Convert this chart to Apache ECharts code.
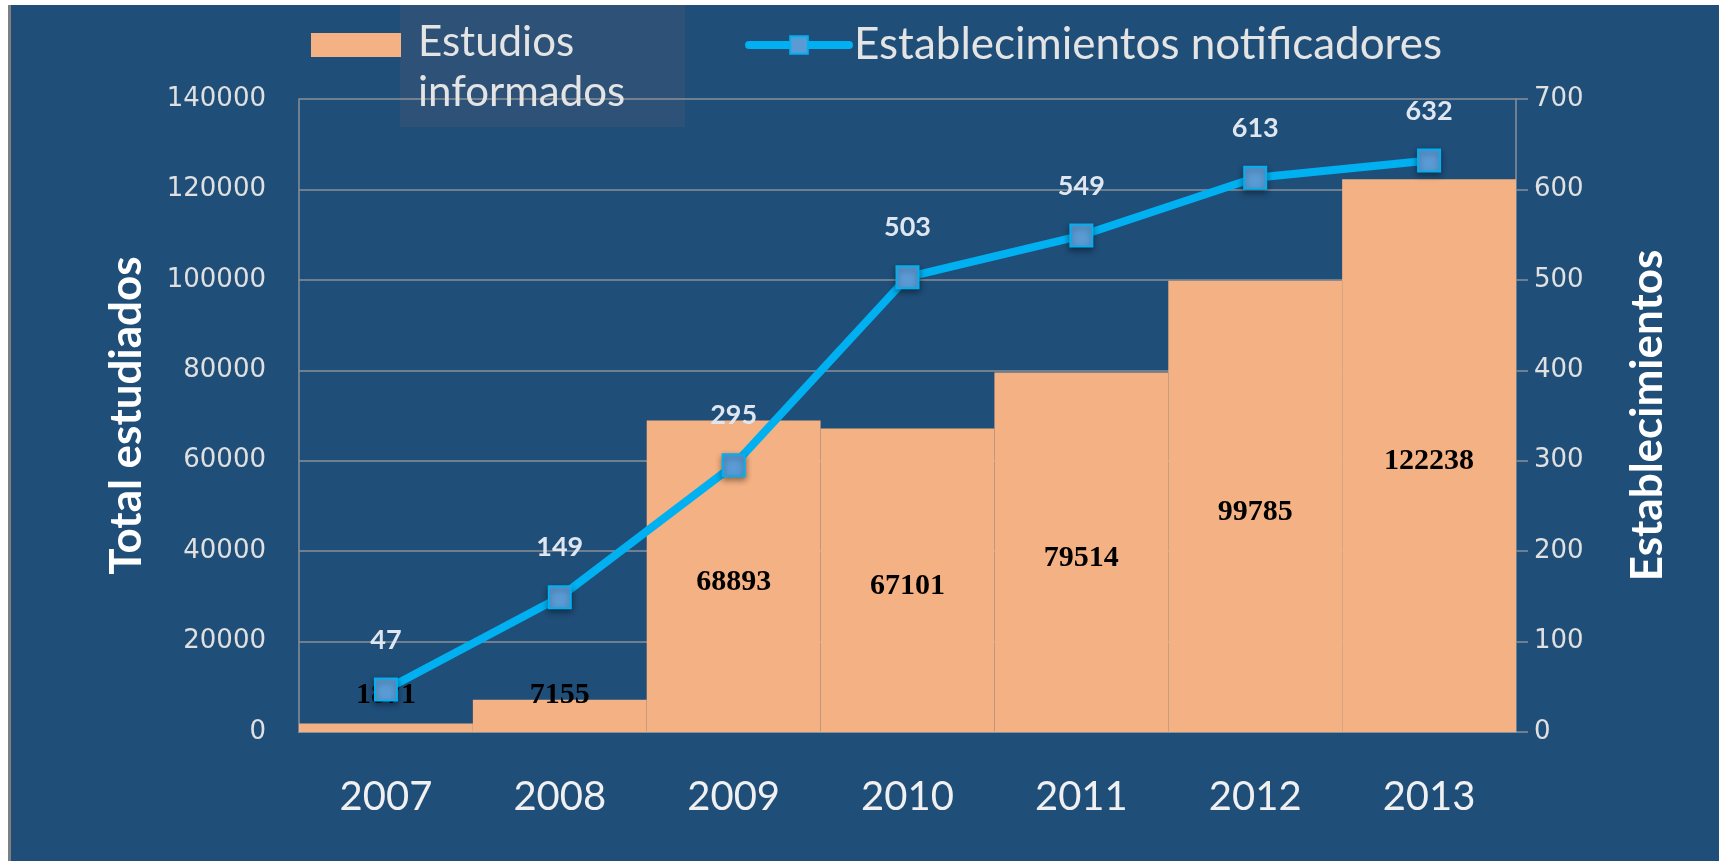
<!DOCTYPE html>
<html>
<head>
<meta charset="utf-8">
<script src="https://cdn.jsdelivr.net/npm/echarts@6/dist/echarts.min.js"></script>
<style>
  html, body { margin: 0; padding: 0; background: #ffffff; width: 1719px; height: 861px; overflow: hidden; }
  #edge { position: absolute; left: 8px; top: 5px; width: 3px; height: 856px; background: #7f7f7f; }
  #chart { position: absolute; left: 11px; top: 5px; width: 1708px; height: 856px; }
</style>
</head>
<body>
<div id="edge"></div>
<div id="chart"></div>
<script>
const years = ['2007', '2008', '2009', '2010', '2011', '2012', '2013'];
const estudios = [1871, 7155, 68893, 67101, 79514, 99785, 122238];
const establecimientos = [47, 149, 295, 503, 549, 613, 632];
const barName = 'Estudios informados';
const lineName = 'Establecimientos notificadores';

const chart = echarts.init(document.getElementById('chart'), null, { renderer: 'canvas' });

const barData = estudios.map(v => v < 20000
  ? { value: v, label: { position: 'insideBottom', distance: 22, offset: [0, 0] } }
  : v);

const gridColor = '#8a9097';

chart.setOption({
  backgroundColor: '#1f4e79',
  animation: false,
  graphic: [{
    type: 'rect', left: 389, top: 0, z: 0,
    shape: { width: 285, height: 122 },
    style: { fill: '#2e5177' }
  }],
  legend: [{
    data: [barName], left: 295, top: 7, itemWidth: 90, itemHeight: 100,
    icon: 'path://M0,16H90V40H0Z M0,0L0.1,0L0.1,0.1Z M0,100L0.1,100L0.1,99.9Z',
    selectedMode: false, z: 5,
    formatter: n => n.replace(' ', '\n'),
    textStyle: { color: '#e4e4e4', fontFamily: 'Lato', fontSize: 42, lineHeight: 50, padding: [0, 0, 0, 12] }
  }, {
    data: [lineName], left: 729, top: 13, itemWidth: 100, itemHeight: 22,
    selectedMode: false, z: 5,
    lineStyle: { width: 8, color: '#00b0f0', cap: 'round' },
    textStyle: { color: '#e4e4e4', fontFamily: 'Lato', fontSize: 44, padding: [0, 0, 0, 0] }
  }],
  grid: { left: 288, right: 203, top: 94, bottom: 129 },
  xAxis: {
    type: 'category', data: years,
    axisLine: { show: true, lineStyle: { color: gridColor, width: 2 } },
    axisTick: { show: false },
    axisLabel: { color: '#f0f0f0', fontFamily: 'Lato', fontSize: 40, margin: 45 }
  },
  yAxis: [{
    type: 'value', min: 0, max: 140000, interval: 20000,
    name: 'Total estudiados', nameLocation: 'middle', nameGap: 150, nameRotate: 90,
    nameTextStyle: { color: '#ffffff', fontFamily: 'Lato', fontWeight: 'bold', fontSize: 44 },
    axisLine: { show: true, lineStyle: { color: gridColor, width: 1.5 } },
    axisTick: { show: false },
    splitLine: { show: true, lineStyle: { color: gridColor, width: 1.5 } },
    axisLabel: { color: '#e0e0e0', fontFamily: 'DejaVu Sans', fontSize: 26, margin: 33, formatter: v => String(v) }
  }, {
    type: 'value', min: 0, max: 700, interval: 100, position: 'right',
    name: 'Establecimientos', nameLocation: 'middle', nameGap: 110, nameRotate: 90,
    nameTextStyle: { color: '#ffffff', fontFamily: 'Lato', fontWeight: 'bold', fontSize: 44 },
    axisLine: { show: true, lineStyle: { color: gridColor, width: 1.5 } },
    axisTick: { show: true, length: 12, lineStyle: { color: gridColor, width: 1.5 } },
    splitLine: { show: false },
    axisLabel: { color: '#e0e0e0', fontFamily: 'DejaVu Sans', fontSize: 26, margin: 18, formatter: v => String(v) }
  }],
  series: [{
    name: barName, type: 'bar', data: barData, yAxisIndex: 0,
    barCategoryGap: '0%', z: 2,
    itemStyle: { color: '#f4b183' },
    label: { show: true, position: 'inside', offset: [0, 6], color: '#000000', fontFamily: 'Liberation Serif', fontWeight: 'bold', fontSize: 30 }
  }, {
    name: lineName, type: 'line', data: establecimientos, yAxisIndex: 1, z: 4,
    symbol: 'rect', symbolSize: 22,
    lineStyle: { color: '#00b0f0', width: 8 },
    itemStyle: { color: '#5b9bd5', borderColor: '#00b0f0', borderWidth: 2, shadowColor: 'rgba(0,0,0,0.4)', shadowBlur: 6, shadowOffsetY: 3 },
    label: { show: true, position: 'top', distance: 24, color: '#dfe6f0', fontFamily: 'Lato', fontWeight: 'bold', fontSize: 27 }
  }]
});
</script>
</body>
</html>
